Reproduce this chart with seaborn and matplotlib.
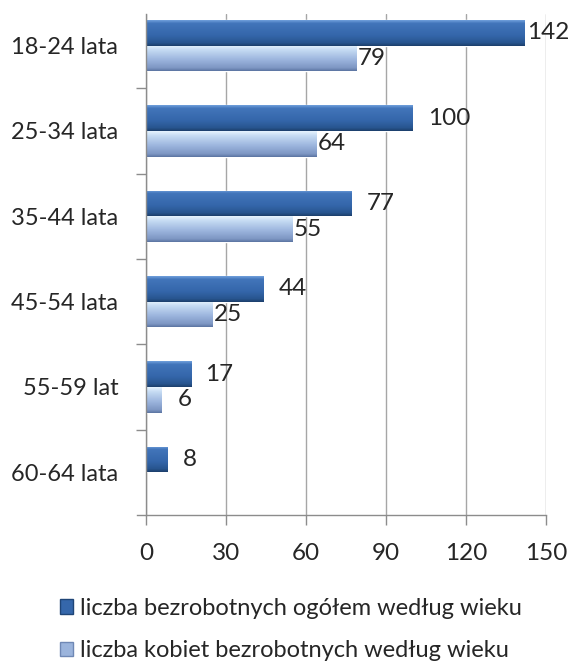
import numpy as np
import pandas as pd
import seaborn as sns
import matplotlib.pyplot as plt
from matplotlib.colors import LinearSegmentedColormap
from matplotlib.patches import Patch

# data
ages = ["18-24 lata", "25-34 lata", "35-44 lata", "45-54 lata", "55-59 lat", "60-64 lata"]
ogolem = [142, 100, 77, 44, 17, 8]
kobiety = [79, 64, 55, 25, 6, np.nan]
series = ["liczba bezrobotnych ogółem według wieku",
          "liczba kobiet bezrobotnych według wieku"]
xticks = [0, 30, 60, 90, 120, 150]

df = pd.DataFrame({
    "wiek": ages * 2,
    "liczba": ogolem + kobiety,
    "seria": [series[0]] * len(ages) + [series[1]] * len(ages),
})

# label offsets in points (Excel puts them a bit unevenly)
pad_dark = [2, 11, 11, 11, 10, 11]
pad_light = [1, 1, 1, 1, 11]

sns.set_theme(style="white")
plt.rcParams["font.family"] = ["Lato", "DejaVu Sans"]
text_col = "#262626"
axis_col = "#8c8c8c"
dark = "#3567ab"
light = "#9bb4dc"
num_size = 17.5

fig = plt.figure(figsize=(5.68, 6.66), dpi=100)
ax = fig.add_axes([0.257, 0.2267, 0.7042, 0.7523])

sns.barplot(data=df, y="wiek", x="liczba", hue="seria", orient="h",
            width=0.6, palette=[dark, light], saturation=1,
            legend=False, ax=ax)

# gradient fill like the Excel bevel bars
dark_cmap = LinearSegmentedColormap.from_list(
    "d", [(0, "#6f9fdb"), (0.12, "#4275ba"), (0.6, "#3466aa"), (0.88, "#28558f"), (1, "#1c3f6c")])
light_cmap = LinearSegmentedColormap.from_list(
    "l", [(0, "#e6f3fe"), (0.18, "#c5dbf3"), (0.55, "#9db6de"), (0.88, "#7e97c4"), (1, "#5c75a2")])
grad = np.linspace(0, 1, 64).reshape(-1, 1)

for container, cmap, pads in zip(ax.containers, [dark_cmap, light_cmap], [pad_dark, pad_light]):
    bars = [b for b in container if not np.isnan(b.get_width()) and b.get_width() > 0]
    for bar, pad in zip(bars, pads):
        x0, y0 = bar.get_x(), bar.get_y()
        w, h = bar.get_width(), bar.get_height()
        im = ax.imshow(grad, cmap=cmap, aspect="auto", origin="upper",
                       extent=(x0, x0 + w, y0 + h, y0), zorder=2)
        im.set_clip_path(bar)
        ax.annotate(f"{w:.0f}", (w, y0 + h / 2), xytext=(pad, 0),
                    textcoords="offset points", va="center", ha="left",
                    fontsize=num_size, color=text_col, annotation_clip=False)

ax.set_xlim(0, 150)
ax.set_ylim(5.5, -0.37)
ax.set_xticks(xticks)
ax.set_xlabel("")
ax.set_ylabel("")

ax.xaxis.grid(True, color="#a6a6a6", lw=1)
ax.set_axisbelow(True)
for s in ["top", "right"]:
    ax.spines[s].set_visible(False)
for s in ["left", "bottom"]:
    ax.spines[s].set_color(axis_col)
    ax.spines[s].set_linewidth(1)
ax.spines["bottom"].set_bounds(-3.4, 150)

ax.tick_params(axis="x", length=7, width=1, color=axis_col, pad=13,
               labelsize=num_size, labelcolor=text_col, bottom=True)
ax.set_yticks(np.arange(0.5, 5), minor=True)
ax.tick_params(axis="y", which="major", length=0, pad=20,
               labelsize=17, labelcolor=text_col)
ax.tick_params(axis="y", which="minor", length=7, width=1,
               color=axis_col, left=True)

handles = [Patch(facecolor=dark, edgecolor="#1f4577"),
           Patch(facecolor=light, edgecolor="#6f88b5")]
fig.legend(handles, series, loc="center left", bbox_to_anchor=(0.105, 0.055),
           frameon=False, fontsize=17, handlelength=0.55, handleheight=0.55,
           handletextpad=0.3, labelspacing=0.9, borderpad=0, borderaxespad=0,
           labelcolor=text_col)

fig.savefig("out.png", dpi=100)
